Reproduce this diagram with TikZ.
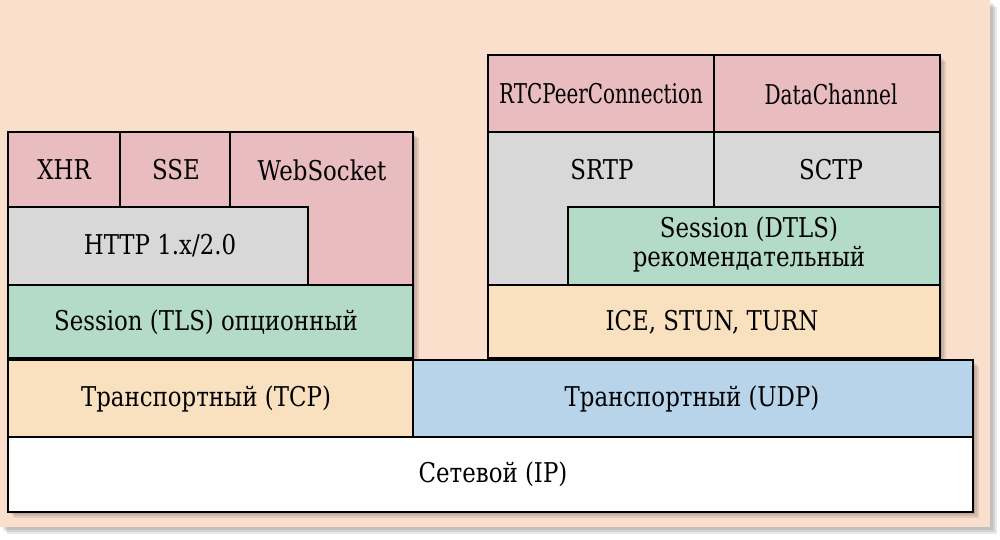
\documentclass[tikz,border=0pt]{standalone}
\usepackage{fontspec}
\setmainfont{DejaVu Serif}[FakeStretch=0.84]
\definecolor{bgcolor}{RGB}{249,223,204}
\definecolor{apicolor}{RGB}{233,188,191}
\definecolor{protocolor}{RGB}{216,216,216}
\definecolor{sessioncolor}{RGB}{180,219,199}
\definecolor{transportcolor}{RGB}{249,225,192}
\definecolor{udpcolor}{RGB}{184,212,234}

\begin{document}
\begin{tikzpicture}[
    x=0.02cm, y=-0.02cm,
    layerbox/.style={draw, line width=1.5pt},
    txt/.style={font=\fontsize{15.5}{16.5}\selectfont, align=center, inner sep=0pt},
    softshadow/.style={fill=black, opacity=0.09}
]
    \useasboundingbox (0,0) rectangle (1000,540);

    % Frame with its shadow
    \foreach \s in {3,5,7}
        \fill[softshadow] (\s,\s) rectangle (990+\s,527+\s);
    \fill[bgcolor] (0,0) rectangle (990,527);

    % Shadows of the stacks
    \foreach \s in {2,4,6} {
        \fill[softshadow] (8+\s,132+\s) rectangle (413+\s,358+\s);
        \fill[softshadow] (488+\s,55+\s) rectangle (940+\s,358+\s);
        \fill[softshadow] (8+\s,360+\s) rectangle (973+\s,512+\s);
    }

    % Browser stack (left)
    \draw[layerbox, fill=apicolor] (8,132) rectangle (120,207);
    \draw[layerbox, fill=apicolor] (120,132) rectangle (230,207);
    \draw[layerbox, fill=apicolor] (230,132) rectangle (413,285);
    \draw[layerbox, fill=protocolor] (8,207) rectangle (308,285);
    \draw[layerbox, fill=sessioncolor] (8,285) rectangle (413,358);

    % WebRTC stack (right)
    \draw[layerbox, fill=apicolor] (488,55) rectangle (714,132);
    \draw[layerbox, fill=apicolor] (714,55) rectangle (940,132);
    \draw[layerbox, fill=protocolor] (488,132) rectangle (714,285);
    \draw[layerbox, fill=protocolor] (714,132) rectangle (940,207);
    \draw[layerbox, fill=sessioncolor] (568,207) rectangle (940,285);
    \draw[layerbox, fill=transportcolor] (488,285) rectangle (940,358);

    % Transport and network
    \draw[layerbox, fill=transportcolor] (8,360) rectangle (413,437);
    \draw[layerbox, fill=udpcolor] (413,360) rectangle (973,437);
    \draw[layerbox, fill=white] (8,437) rectangle (973,512);

    % Labels
    \node[txt] (xhr) at (64,170) {XHR};
    \node[txt] (sse) at (176,170) {SSE};
    \node[txt] (ws) at (322,170) {WebSocket};
    \node[txt] (http) at (160,246) {HTTP 1.x/2.0};
    \node[txt] (tls) at (206,322) {Session (TLS) опционный};

    \node[txt] (rtc) at (601,94) {\scalebox{0.87}[1]{RTCPeerConnection}};
    \node[txt] (dc) at (831,94) {\scalebox{0.88}[1]{DataChannel}};
    \node[txt] (srtp) at (602,170) {SRTP};
    \node[txt] (sctp) at (831,170) {SCTP};
    \node[txt] (dtls) at (749,244) {Session (DTLS)\\рекомендательный};
    \node[txt] (ice) at (712,322) {ICE, STUN, TURN};

    \node[txt] (tcp) at (206,399) {Транспортный (TCP)};
    \node[txt] (udp) at (692,399) {Транспортный (UDP)};
    \node[txt] (ip) at (493,474) {Сетевой (IP)};
\end{tikzpicture}
\end{document}
